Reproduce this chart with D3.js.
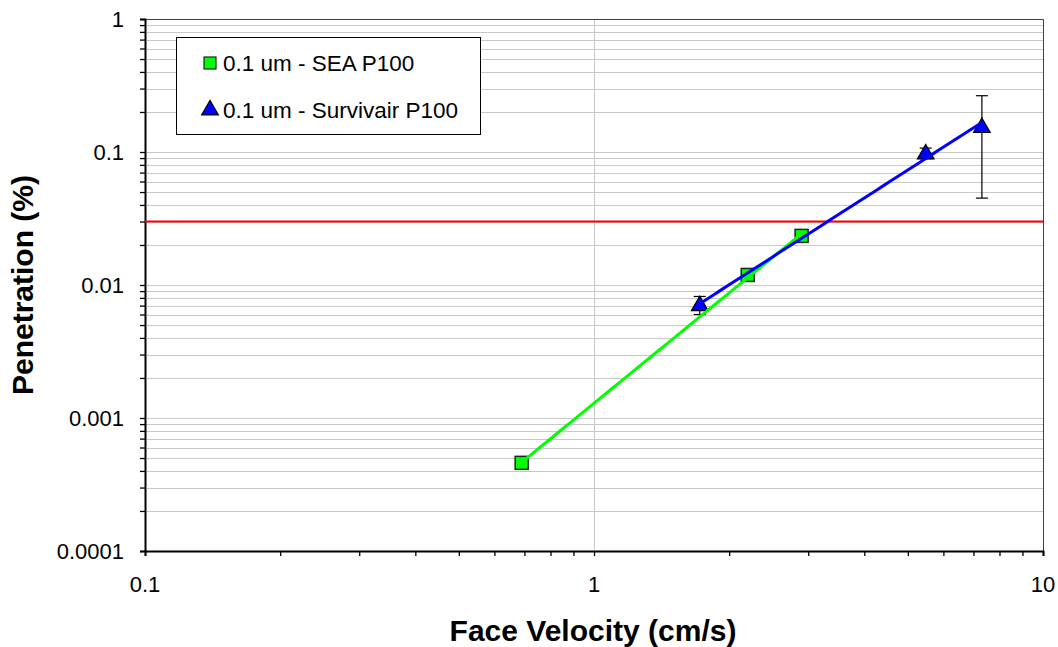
<!DOCTYPE html>
<html>
<head>
<meta charset="utf-8">
<script src="https://cdn.jsdelivr.net/npm/d3@7"></script>
<style>
  html, body { margin: 0; padding: 0; background: #ffffff; }
  svg { display: block; font-family: "Liberation Sans", Arial, sans-serif; }
</style>
</head>
<body>
<svg id="chart" width="1058" height="647"></svg>
<script>
// Measured penetration of 0.1 um particles vs. face velocity
const seaVelocity = [0.69, 2.2, 2.9];
const seaPenetration = [0.00046, 0.0119, 0.0234];

const survVelocity = [1.72, 5.48, 7.31];
const survPenetration = [0.0071, 0.098, 0.155];
const survError = [0.0011, 0.009, 0.11];

const limitPenetration = 0.03;

const xTickValues = [0.1, 1, 10];
const xTickLabels = ["0.1", "1", "10"];
const yTickValues = [0.0001, 0.001, 0.01, 0.1, 1];
const yTickLabels = ["0.0001", "0.001", "0.01", "0.1", "1"];

const seriesNames = ["0.1 um - SEA P100", "0.1 um - Survivair P100"];

const svg = d3.select("#chart");
const plotL = 145, plotR = 1043, plotT = 19, plotB = 551;

const x = d3.scaleLog().domain([0.1, 10]).range([plotL, plotR]);
const y = d3.scaleLog().domain([0.0001, 1]).range([plotB, plotT]);

// values 1..9 in every decade
function decadeValues(lo, hi) {
  const out = [];
  for (let e = Math.round(Math.log10(lo)); e < Math.round(Math.log10(hi)); e++) {
    for (let m = 1; m <= 9; m++) out.push(m * Math.pow(10, e));
  }
  out.push(hi);
  return out;
}
const yAll = decadeValues(0.0001, 1);
const xAll = decadeValues(0.1, 10);

// horizontal gridlines
svg.append("g").selectAll("line").data(yAll).join("line")
  .attr("x1", plotL).attr("x2", plotR)
  .attr("y1", d => Math.round(y(d)) + 0.5).attr("y2", d => Math.round(y(d)) + 0.5)
  .attr("stroke", "#c8c8c8").attr("stroke-width", 1);

// vertical gridlines at decades
svg.append("g").selectAll("line").data(xTickValues).join("line")
  .attr("x1", d => Math.round(x(d)) + 0.5).attr("x2", d => Math.round(x(d)) + 0.5)
  .attr("y1", plotT).attr("y2", plotB)
  .attr("stroke", "#c8c8c8").attr("stroke-width", 1);

// plot frame (top / right)
svg.append("path")
  .attr("d", `M${plotL},${plotT + 0.5}H${plotR + 0.5}V${plotB}`)
  .attr("fill", "none").attr("stroke", "#404040").attr("stroke-width", 1);

// axes
const yAxis = d3.axisLeft(y).tickValues(yAll).tickSize(5).tickFormat(() => "");
const gy = svg.append("g").attr("transform", `translate(${plotL},0)`).call(yAxis);
const xAxis = d3.axisBottom(x).tickValues(xAll).tickSize(5).tickFormat(() => "");
const gx = svg.append("g").attr("transform", `translate(0,${plotB})`).call(xAxis);
[gx, gy].forEach(g => {
  g.select(".domain").attr("stroke", "#000").attr("stroke-width", 2);
  g.selectAll(".tick line").attr("stroke", "#000").attr("stroke-width", 1.3);
});

// tick labels
svg.append("g").selectAll("text").data(yTickValues).join("text")
  .attr("x", 124).attr("y", d => y(d) + 7.5)
  .attr("text-anchor", "end").attr("font-size", 22).attr("fill", "#000")
  .text((d, i) => yTickLabels[i]);
svg.append("g").selectAll("text").data(xTickValues).join("text")
  .attr("x", d => x(d)).attr("y", 592)
  .attr("text-anchor", "middle").attr("font-size", 22).attr("fill", "#000")
  .text((d, i) => xTickLabels[i]);

// axis titles
svg.append("text")
  .attr("x", 593).attr("y", 641)
  .attr("text-anchor", "middle").attr("font-size", 30).attr("font-weight", "bold")
  .text("Face Velocity (cm/s)");
svg.append("text")
  .attr("transform", "translate(33,285) rotate(-90)")
  .attr("text-anchor", "middle").attr("font-size", 30).attr("font-weight", "bold")
  .text("Penetration (%)");

// 0.03 % limit line
svg.append("line")
  .attr("x1", plotL).attr("x2", plotR)
  .attr("y1", y(limitPenetration)).attr("y2", y(limitPenetration))
  .attr("stroke", "#ff0000").attr("stroke-width", 2);

// error bars
const eb = svg.append("g").attr("stroke", "#000").attr("stroke-width", 1.2);
survVelocity.forEach((v, i) => {
  const cx = x(v);
  const hi = y(survPenetration[i] + survError[i]);
  const lo = y(survPenetration[i] - survError[i]);
  eb.append("line").attr("x1", cx).attr("x2", cx).attr("y1", hi).attr("y2", lo);
  eb.append("line").attr("x1", cx - 6).attr("x2", cx + 6).attr("y1", hi).attr("y2", hi);
  eb.append("line").attr("x1", cx - 6).attr("x2", cx + 6).attr("y1", lo).attr("y2", lo);
});

// markers
const sq = 13;
svg.append("g").selectAll("rect").data(seaVelocity).join("rect")
  .attr("x", d => x(d) - sq / 2)
  .attr("y", (d, i) => y(seaPenetration[i]) - sq / 2)
  .attr("width", sq).attr("height", sq)
  .attr("fill", "#00ff00").attr("stroke", "#222").attr("stroke-width", 1.5);

const tri = d3.symbol().type(d3.symbolTriangle).size(120);
svg.append("g").selectAll("path").data(survVelocity).join("path")
  .attr("transform", (d, i) => `translate(${x(d)},${y(survPenetration[i]) + 1})`)
  .attr("d", tri)
  .attr("fill", "#0000ff").attr("stroke", "#000").attr("stroke-width", 1.2);

// power-law trendlines (least squares in log-log space)
function powerFit(xs, ys) {
  const lx = xs.map(Math.log10), ly = ys.map(Math.log10);
  const mx = d3.mean(lx), my = d3.mean(ly);
  const b = d3.sum(lx, (v, i) => (v - mx) * (ly[i] - my)) / d3.sum(lx, v => (v - mx) * (v - mx));
  const a = my - b * mx;
  const x0 = d3.min(xs), x1 = d3.max(xs);
  return d3.range(0, 41).map(k => {
    const xv = Math.pow(10, Math.log10(x0) + (Math.log10(x1) - Math.log10(x0)) * k / 40);
    return [xv, Math.pow(10, a + b * Math.log10(xv))];
  });
}
const line = d3.line().x(d => x(d[0])).y(d => y(d[1]));
svg.append("path").datum(powerFit(seaVelocity, seaPenetration))
  .attr("d", line).attr("fill", "none").attr("stroke", "#00ff00").attr("stroke-width", 3);
svg.append("path").datum(powerFit(survVelocity, survPenetration))
  .attr("d", line).attr("fill", "none").attr("stroke", "#0000ff").attr("stroke-width", 3);

// legend
const lg = svg.append("g");
lg.append("rect").attr("x", 176.5).attr("y", 37.5).attr("width", 304).attr("height", 97)
  .attr("fill", "#fff").attr("stroke", "#000").attr("stroke-width", 1);
lg.append("rect").attr("x", 204).attr("y", 57).attr("width", 12).attr("height", 12)
  .attr("fill", "#00ff00").attr("stroke", "#222").attr("stroke-width", 1.2);
lg.append("path").attr("transform", "translate(210,110)").attr("d", tri)
  .attr("fill", "#0000ff").attr("stroke", "#000").attr("stroke-width", 1.2);
lg.selectAll("text.item").data(seriesNames).join("text")
  .attr("class", "item")
  .attr("x", 223).attr("y", (d, i) => 71 + i * 47)
  .attr("font-size", 22.5).attr("fill", "#000")
  .text(d => d);
</script>
</body>
</html>
